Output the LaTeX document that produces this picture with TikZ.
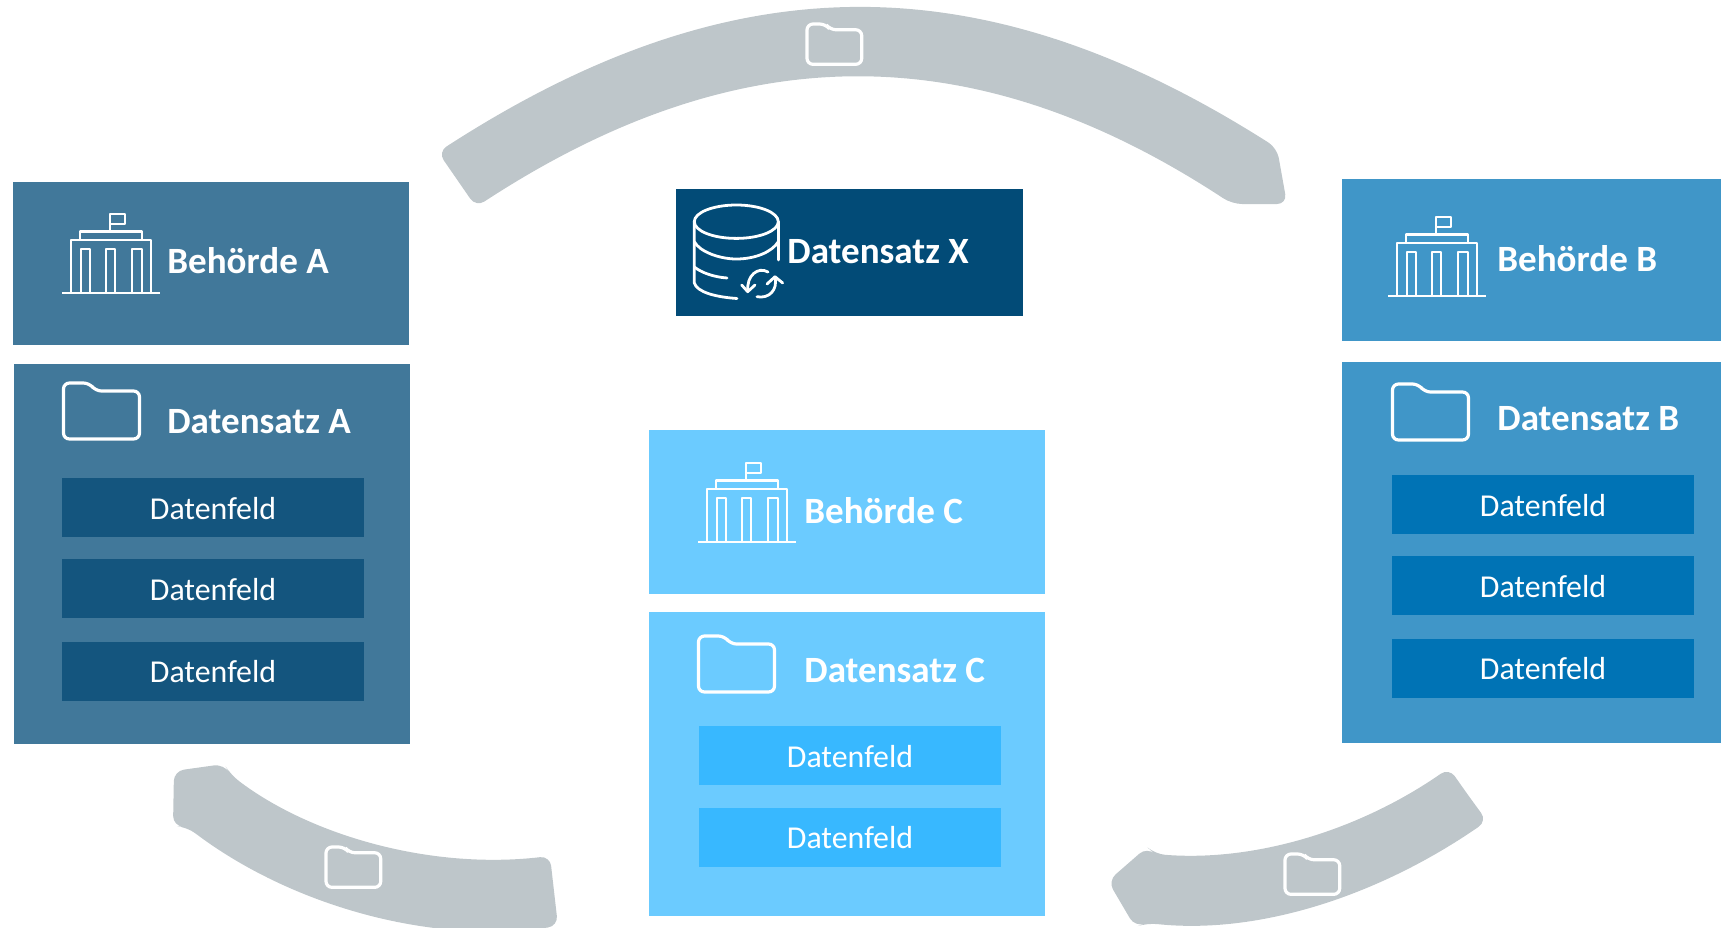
\documentclass[tikz,border=0pt]{standalone}
\usepackage{fontspec}
\setmainfont{Carlito}
\usetikzlibrary{calc}
\definecolor{AgencyA}{HTML}{41789A}
\definecolor{FieldA}{HTML}{14557E}
\definecolor{AgencyB}{HTML}{4096C8}
\definecolor{FieldB}{HTML}{0073B5}
\definecolor{AgencyC}{HTML}{6BCBFF}
\definecolor{FieldC}{HTML}{38B8FF}
\definecolor{RecordX}{HTML}{024B77}
\definecolor{FlowGrey}{HTML}{BEC6CA}
\tikzset{
    panel/.style={rectangle,inner sep=0pt,outer sep=0pt},
    titletext/.style={anchor=base west,inner sep=0pt,text=white,font=\fontsize{18.6}{20}\selectfont\bfseries},
    fieldtext/.style={panel,text=white,font=\fontsize{16}{18}\selectfont,text height=12bp,minimum width=151bp,minimum height=29.5bp},
    flow/.style={fill=FlowGrey,rounded corners=5pt},
    iconline/.style={draw=white,line width=1.4pt,line join=round},
    pics/foldericon/.style={code={
        \draw[white,line width=1.6pt,rounded corners=3pt] (0,0) -- (26,0) -- (32,8) -- (76,8) -- (76,56) -- (0,56) -- cycle;
    }},
    pics/buildingicon/.style={code={
        \draw[iconline] (0,0) -- (98,0);
        \draw[iconline] (9,0) -- (9,-53) -- (89,-53) -- (89,0);
        \draw[iconline] (18,-53) -- (18,-61.5) -- (80,-61.5) -- (80,-53);
        \draw[iconline] (48,-61.5) -- (48,-79) -- (63,-79) -- (63,-69) -- (48,-69);
        \foreach \colx/\colw in {19/9,44/9,70/10} {
            \draw[iconline] (\colx,0) -- (\colx,-44) -- ++(\colw,0) -- ++(0,44);
        }
    }}
}
\begin{document}
\begin{tikzpicture}[x=0.5bp,y=-0.5bp]
    \useasboundingbox (0,0) rectangle (1721,927.4);
    \clip (0,0) rectangle (1721,927.4);
    % flows
    \path[flow] (438,152) .. controls (733,-39) and (983,-39) .. (1277,148) -- (1287,204) -- (1232,204)
        .. controls (975,35) and (739,35) .. (476,207) -- cycle;
    \path[flow] (174,771) -- (224,764) -- (231,775) .. controls (310,835) and (430,870) .. (550,856)
        -- (558,926) .. controls (430,945) and (290,905) .. (187,827) -- (173,826) -- cycle;
    \path[flow] (1468,795) -- (1487,821) .. controls (1380,895) and (1260,935) .. (1147,923) -- (1135,927)
        -- (1108,881) -- (1147,847) -- (1155,854) .. controls (1255,862) and (1360,830) .. (1449,768) -- cycle;
    \pic[scale=0.72] at (807,24) {foldericon};
    \pic[scale=0.72] at (326,847) {foldericon};
    \pic[scale=0.72] at (1285,854) {foldericon};
    % agencies
    \node[panel,fill=AgencyA,minimum width=198bp,minimum height=81.5bp] (agencyA) at (211,263.5) {};
    \node[panel,fill=AgencyA,minimum width=198bp,minimum height=190bp] (recordA) at (212,554) {};
    \node[panel,fill=AgencyB,minimum width=189.5bp,minimum height=81bp] (agencyB) at (1531.5,260) {};
    \node[panel,fill=AgencyB,minimum width=189.5bp,minimum height=190.5bp] (recordB) at (1531.5,552.5) {};
    \node[panel,fill=AgencyC,minimum width=198bp,minimum height=82bp] (agencyC) at (847,512) {};
    \node[panel,fill=AgencyC,minimum width=198bp,minimum height=152bp] (recordC) at (847,764) {};
    \node[panel,fill=RecordX,minimum width=173.5bp,minimum height=63.5bp] (recordX) at (849.5,252.5) {};
    % fields
    \foreach \ypos/\name in {507.7/a,588.7/b,671/c} {
        \node[fieldtext,fill=FieldA] (fieldA\name) at (213,\ypos) {Datenfeld};
    }
    \foreach \ypos/\name in {504.5/a,585.3/b,668/c} {
        \node[fieldtext,fill=FieldB] (fieldB\name) at (1543,\ypos) {Datenfeld};
    }
    \foreach \ypos/\name in {755.5/a,837/b} {
        \node[fieldtext,fill=FieldC] (fieldC\name) at (850,\ypos) {Datenfeld};
    }
    % titles
    \node[titletext] (titleA) at (167,273) {Behörde A};
    \node[titletext] (dataA) at (167,433) {Datensatz A};
    \node[titletext] (titleB) at (1497,271) {Behörde B};
    \node[titletext] (dataB) at (1497,430) {Datensatz B};
    \node[titletext] (titleC) at (804,523) {Behörde C};
    \node[titletext] (dataC) at (804,682) {Datensatz C};
    \node[titletext] (titleX) at (787,263) {Datensatz X};
    % icons
    \pic at (62,293) {buildingicon};
    \pic at (1388,296) {buildingicon};
    \pic at (698,542) {buildingicon};
    \pic at (63.5,383) {foldericon};
    \pic at (1392.5,384) {foldericon};
    \pic at (698.5,636) {foldericon};
    % database
    \draw[iconline] (736.3,221.7) ellipse [x radius=42,y radius=16.7];
    \draw[iconline,line cap=round] (694.3,221.7) -- (694.3,283) .. controls (697,292) and (715,297) .. (737,298.5);
    \draw[iconline,line cap=round] (778.3,221.7) -- (778.3,260);
    \draw[iconline] (694.3,241.7) .. controls (700,252) and (720,259) .. (736.3,259) .. controls (755,259) and (772,252) .. (778.3,241.7);
    \draw[iconline,line cap=round] (694.3,267) .. controls (702,273) and (714,277) .. (727,278);
    \draw[iconline,line cap=round] (768,272) .. controls (758,266) and (746,276) .. (748,291);
    \draw[iconline,line cap=round] (741.7,285) -- (747.7,291.7) -- (755,285);
    \draw[iconline,line cap=round] (757,296.7) .. controls (769,299) and (778,290) .. (775,277);
    \draw[iconline,line cap=round] (767,284) -- (775,276.7) -- (782.7,283);
\end{tikzpicture}
\end{document}
